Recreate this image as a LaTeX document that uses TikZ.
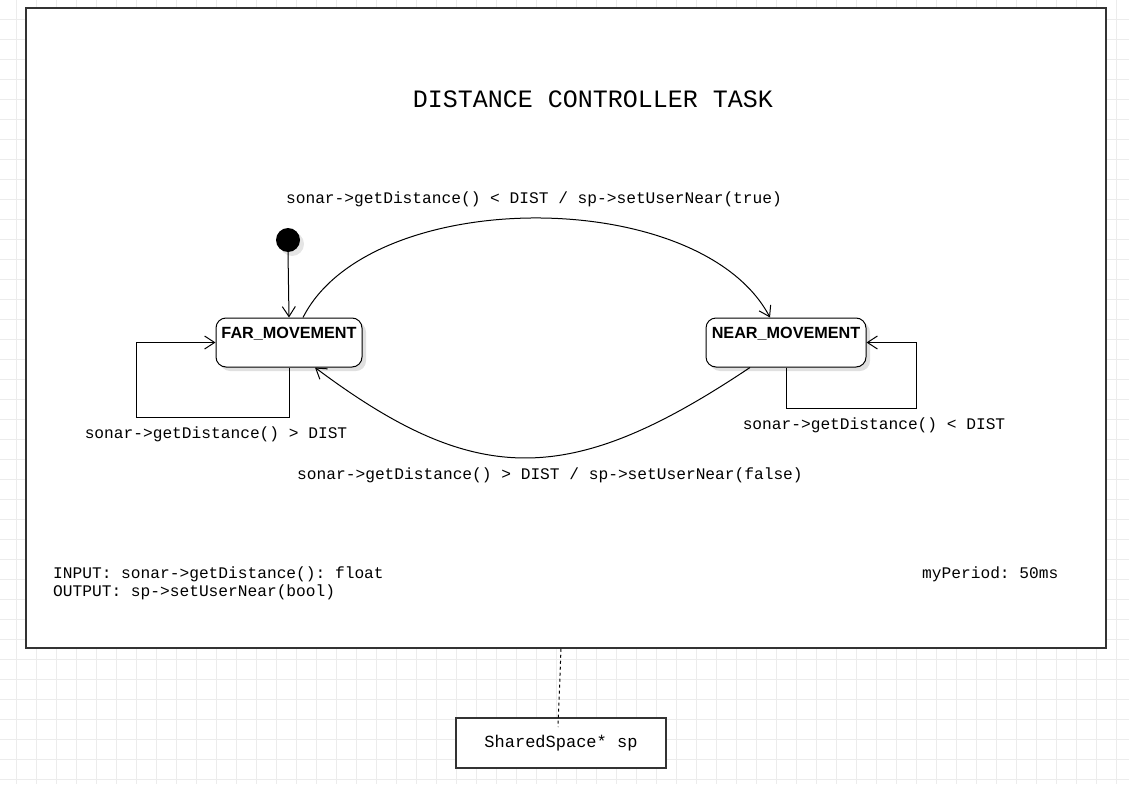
\documentclass[tikz,border=0pt]{standalone}
\usepackage{fontspec}
\setmainfont{Liberation Sans}
\newfontfamily\monof{Liberation Mono}
\usetikzlibrary{arrows.meta,shadows}
\definecolor{gridc}{RGB}{236,236,236}
\definecolor{framec}{RGB}{51,51,51}
\frenchspacing
\tikzset{
  arr/.style={draw=black, line width=1pt, -{Straight Barb[length=10pt,width=13pt]}},
  statebox/.style={draw=black, line width=1pt, fill=white, rounded corners=10pt,
    minimum width=146pt, minimum height=49pt, inner sep=0pt,
    drop shadow={shadow xshift=4pt, shadow yshift=-4pt, opacity=0.12, fill=black}},
  stlabel/.style={anchor=center, yshift=-16pt, font=\fontsize{16.2}{18}\selectfont\bfseries},
  mono/.style={font=\monof\fontsize{16.2}{18}\selectfont, inner sep=0pt},
  framebox/.style={draw=framec, line width=1.5pt, fill=white, inner sep=0pt},
  ssbox/.style={draw=framec, line width=1.2pt, fill=white, minimum width=210pt, minimum height=50pt, inner sep=0pt},
  initdot/.style={circle, fill=black, minimum size=24pt, inner sep=0pt,
    drop shadow={shadow xshift=4pt, shadow yshift=-4pt, opacity=0.10, fill=black}}
}
\begin{document}
\begin{tikzpicture}[x=1pt,y=-1pt]
\useasboundingbox (0,0) rectangle (1129,784);
% background grid
\foreach \gx in {16,36,...,1126} \draw[gridc, line width=0.8pt] (\gx,0) -- (\gx,784);
\foreach \gy in {19,39,...,779} \draw[gridc, line width=0.8pt] (0,\gy) -- (1129,\gy);
% frame
\node[framebox, minimum width=1080pt, minimum height=640pt] (frame) at (566,328) {};
\node[font=\monof\fontsize{25}{28}\selectfont, inner sep=0pt] (title) at (593,99) {DISTANCE CONTROLLER TASK};
% states
\node[initdot] (init) at (288,240) {};
\node[statebox, label={[stlabel]north:FAR\_MOVEMENT}] (far) at (289,342.5) {};
\node[statebox, minimum width=160pt, label={[stlabel]north:NEAR\_MOVEMENT}] (near) at (786,342.5) {};
% initial transition
\draw[arr] (init.south) -- (far.north);
% far -> near
\draw[arr] ([xshift=14pt]far.north) .. controls (370,185) and (700,185) .. ([xshift=-16pt]near.north);
\node[mono] (lbltop) at (534,199) {sonar->getDistance() < DIST / sp->setUserNear(true)};
% near -> far
\draw[arr] ([xshift=-36pt]near.south) .. controls (570,488) and (476,488) .. ([xshift=26pt]far.south);
\node[mono] (lblbot) at (550,475) {sonar->getDistance() > DIST / sp->setUserNear(false)};
% self loops
\coordinate (farloop) at (136,417);
\draw[arr] (far.south) |- (farloop) |- (far.west);
\node[mono] (lblfar) at (216,434) {sonar->getDistance() > DIST};
\coordinate (nearloop) at (916,408);
\draw[arr] (near.south) |- (nearloop) |- (near.east);
\node[mono] (lblnear) at (874,425) {sonar->getDistance() < DIST};
% info texts
\node[mono, anchor=west, align=left] (info) at (53,583) {INPUT: sonar->getDistance(): float\\OUTPUT: sp->setUserNear(bool)};
\node[mono, anchor=west] (period) at (922,574) {myPeriod: 50ms};
% shared space
\node[ssbox, font=\monof\fontsize{17}{19}\selectfont] (ss) at (561,743) {SharedSpace* sp};
\coordinate (dsend) at (558,727);
\draw[black, line width=1pt, dash pattern=on 3pt off 3pt] ([xshift=-5pt]frame.south) -- (dsend);
\end{tikzpicture}
\end{document}
